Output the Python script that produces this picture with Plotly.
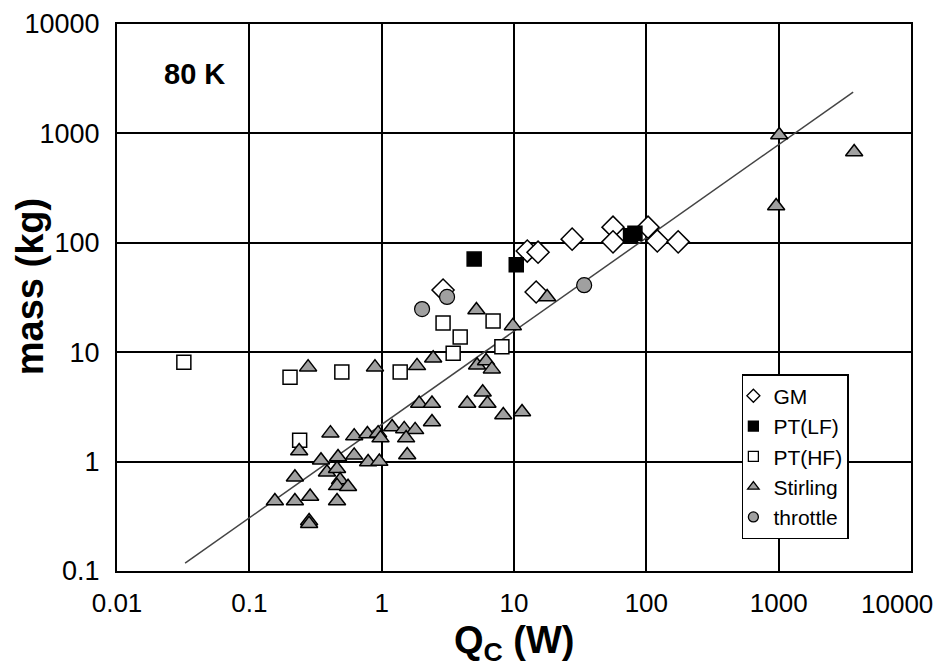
import plotly.graph_objects as go

# ---- data ----
gm_q = [2.91, 12.6, 15.2, 14.7, 27.5, 56, 56, 103, 121, 174]
gm_m = [37, 84, 82, 35.5, 108, 139, 102, 139, 104, 102]

ptlf_q = [5.0, 10.4, 76, 82]
ptlf_m = [71, 63, 116, 122]

pthf_q = [0.032, 0.203, 0.50, 1.38, 0.24, 2.91, 3.92, 3.47, 6.95, 8.1]
pthf_m = [8.1, 5.9, 6.6, 6.6, 1.57, 18.5, 13.8, 9.8, 19.3, 11.2]

stirling_q = [1010, 3720, 957, 5.2, 17.8, 9.8, 1.85, 2.45, 5.26, 6.15, 6.8,
              1.92, 2.40, 4.43, 5.8, 6.3, 8.3, 11.5, 2.40, 1.20, 1.48, 1.79,
              1.53, 0.278, 0.89, 0.41, 0.238, 0.62, 0.78, 0.94, 0.348, 0.468,
              0.386, 0.62, 0.79, 0.96, 0.221, 0.46, 0.485, 0.46, 0.557, 0.156,
              0.221, 0.288, 0.46, 0.283, 0.283, 1.56, 0.98]
stirling_m = [966, 677, 217, 24.3, 32, 17.4, 7.5, 8.8, 7.6, 8.3, 7.0,
              3.4, 3.4, 3.4, 4.3, 3.4, 2.67, 2.84, 2.3, 2.07, 1.99, 1.95,
              1.64, 7.3, 7.3, 1.82, 1.25, 1.71, 1.79, 1.82, 1.03, 1.10,
              0.80, 1.14, 0.99, 1.0, 0.72, 0.86, 0.68, 0.60, 0.59, 0.436,
              0.436, 0.48, 0.436, 0.286, 0.27, 1.15, 1.64]

throttle_q = [3.12, 2.02, 33.9]
throttle_m = [32, 24.8, 41]

fit_q = [0.0327, 3656]
fit_m = [0.118, 2389]

x_ticks = [0.01, 0.1, 1, 10, 100, 1000, 10000]
x_labels = ["0.01", "0.1", "1", "10", "100", "1000", "10000"]
y_ticks = [0.1, 1, 10, 100, 1000, 10000]
y_labels = ["0.1", "1", "10", "100", "1000", "10000"]

FONT = "Liberation Sans, Arial, sans-serif"
TRI_FILL = "#a0a0a0"

series = [
    ("GM", gm_q, gm_m, "diamond", 17, "white", 1.5),
    ("PT(LF)", ptlf_q, ptlf_m, "square", 14, "black", 1.5),
    ("PT(HF)", pthf_q, pthf_m, "square", 14, "white", 1.5),
    ("Stirling", stirling_q, stirling_m, "triangle-up", 15, TRI_FILL, 1.5),
    ("throttle", throttle_q, throttle_m, "circle", 15, TRI_FILL, 1.2),
]

fig = go.Figure()
fig.add_trace(go.Scatter(x=fit_q, y=fit_m, mode="lines",
                         line=dict(color="#444444", width=1.5),
                         showlegend=False, hoverinfo="skip"))

for name, xs, ys, sym, size, fill, lw in series:
    fig.add_trace(go.Scatter(x=xs, y=ys, mode="markers", name=name,
                             showlegend=False,
                             marker=dict(symbol=sym, size=size, color=fill,
                                         line=dict(color="black", width=lw))))
# legend-only entries with small glyphs, as in the reference
for i, (name, xs, ys, sym, size, fill, lw) in enumerate(series):
    fig.add_trace(go.Scatter(x=[None], y=[None], mode="markers", name=name,
                             legendgroup=f"g{i}",
                             marker=dict(symbol=sym, size=10, color=fill,
                                         line=dict(color="black", width=1.3))))

# last x tick label is drawn as an annotation (shifted left, as in the reference)
x_axis_text = x_labels[:-1] + [""]

fig.update_xaxes(type="log", range=[-2, 4], tickmode="array",
                 tickvals=x_ticks, ticktext=x_axis_text,
                 showgrid=True, gridcolor="black", gridwidth=2,
                 showline=True, linecolor="black", linewidth=2, mirror=True,
                 ticks="outside", ticklen=8, tickcolor="rgba(0,0,0,0)",
                 tickfont=dict(family=FONT, size=26, color="black"),
                 zeroline=False)
fig.update_yaxes(type="log", range=[-1, 4], tickmode="array",
                 tickvals=y_ticks, ticktext=y_labels,
                 showgrid=True, gridcolor="black", gridwidth=2,
                 showline=True, linecolor="black", linewidth=2, mirror=True,
                 ticks="outside", ticklen=10, tickcolor="rgba(0,0,0,0)",
                 tickfont=dict(family=FONT, size=27, color="black"),
                 zeroline=False)

fig.add_annotation(x=1.03, y=-0.06, xref="paper", yref="paper",
                   text=x_labels[-1], showarrow=False, xanchor="right",
                   yanchor="middle",
                   font=dict(family=FONT, size=26, color="black"))
fig.add_annotation(x=0.057, y=0.909, xref="paper", yref="paper",
                   text="<b>80 K</b>", showarrow=False, xanchor="left",
                   yanchor="middle",
                   font=dict(family=FONT, size=29, color="black"))
fig.add_annotation(x=-0.110, y=0.52, xref="paper", yref="paper",
                   text="<b>mass (kg)</b>", showarrow=False, textangle=-90,
                   xanchor="center", yanchor="middle",
                   font=dict(family=FONT, size=38, color="black"))
fig.add_annotation(x=0.5, y=-0.132, xref="paper", yref="paper",
                   text="<b>Q<sub>C</sub> (W)</b>", showarrow=False,
                   xanchor="center", yanchor="middle",
                   font=dict(family=FONT, size=38, color="black"))

fig.update_layout(
    width=942, height=658,
    margin=dict(l=109, r=39, t=16, b=95, autoexpand=False),
    paper_bgcolor="white", plot_bgcolor="white",
    font=dict(family=FONT, color="black"),
    legend=dict(x=0.787, y=0.36, xanchor="left", yanchor="top",
                bgcolor="white", bordercolor="black", borderwidth=1.5,
                font=dict(family=FONT, size=21, color="black"),
                tracegroupgap=0, indentation=-10, itemwidth=30),
)

fig.write_html("out.html")
